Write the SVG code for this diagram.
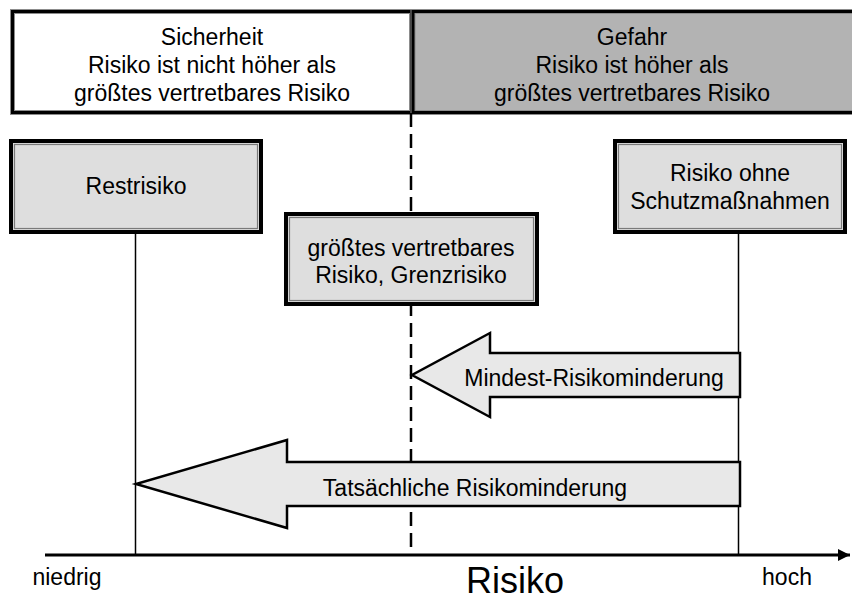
<svg xmlns="http://www.w3.org/2000/svg" width="852" height="601" viewBox="0 0 852 601">
  <style>
    text { font-family: "Liberation Sans", Arial, sans-serif; fill: #000; text-anchor: middle; }
    .lbl { font-size: 23px; }
    .band-outer { fill: none; stroke: #8c8c8c; stroke-width: 5; }
    .band-inner { fill: none; stroke: #000; stroke-width: 3; }
    .node-outer { fill: #dedede; stroke: #000; stroke-width: 4; }
    .node-inner { fill: none; stroke: #7a7a7a; stroke-width: 1.2; }
    .conn { stroke: #000; stroke-width: 1.5; fill: none; }
    .arrow { fill: #e8e8e8; stroke: #000; stroke-width: 2.5; stroke-linejoin: miter; }
  </style>
  <defs>
    <marker id="axisHead" viewBox="0 0 10 10" refX="10" refY="5" markerWidth="4" markerHeight="4" orient="auto" markerUnits="strokeWidth">
      <path d="M0,0 L10,5 L0,10 z" fill="#000"/>
    </marker>
  </defs>

  <rect width="852" height="601" fill="#fff"/>

  <!-- top bands -->
  <g id="sicherheit">
    <rect x="12.5" y="11.5" width="399" height="101" fill="#fff"/>
    <rect class="band-outer" x="12.5" y="11.5" width="399" height="101"/>
    <rect class="band-inner" x="12.5" y="11.5" width="399" height="101"/>
    <text class="lbl" x="212" y="45">Sicherheit</text>
    <text class="lbl" x="212" y="73">Risiko ist nicht höher als</text>
    <text class="lbl" x="212" y="101">größtes vertretbares Risiko</text>
  </g>
  <g id="gefahr">
    <rect x="413" y="11.5" width="450" height="101" fill="#b3b3b3"/>
    <rect class="band-outer" x="413" y="11.5" width="450" height="101"/>
    <rect class="band-inner" x="413" y="11.5" width="450" height="101"/>
    <text class="lbl" x="632" y="45">Gefahr</text>
    <text class="lbl" x="632" y="73">Risiko ist höher als</text>
    <text class="lbl" x="632" y="101">größtes vertretbares Risiko</text>
  </g>

  <!-- connectors: drop lines, dashed limit line, reduction arrows, axis -->
  <g id="connectors">
    <line class="conn" x1="135.5" y1="233" x2="135.5" y2="555"/>
    <line class="conn" x1="738.5" y1="233" x2="738.5" y2="555"/>
    <line x1="411" y1="113" x2="411" y2="552" stroke="#000" stroke-width="2.5" stroke-dasharray="14 7"/>
    <path class="arrow" d="M740,353 L490,353 L490,333 L412,375 L490,417 L490,397 L740,397 Z"/>
    <path class="arrow" d="M740,462 L287,462 L287,440 L136,484 L287,528 L287,506 L740,506 Z"/>
    <line x1="45" y1="555" x2="850" y2="555" stroke="#000" stroke-width="3" marker-end="url(#axisHead)"/>
  </g>

  <!-- nodes -->
  <g id="restrisiko">
    <rect class="node-outer" x="11" y="141" width="250" height="91"/>
    <rect class="node-inner" x="14.5" y="144.5" width="243" height="84"/>
    <text class="lbl" x="136" y="194">Restrisiko</text>
  </g>
  <g id="grenzrisiko">
    <rect class="node-outer" x="286" y="214" width="251" height="90"/>
    <rect class="node-inner" x="289.5" y="217.5" width="244" height="83"/>
    <text class="lbl" x="411" y="256">größtes vertretbares</text>
    <text class="lbl" x="411" y="283">Risiko, Grenzrisiko</text>
  </g>
  <g id="ohne-schutz">
    <rect class="node-outer" x="615" y="141" width="230" height="91"/>
    <rect class="node-inner" x="618.5" y="144.5" width="223" height="84"/>
    <text class="lbl" x="730" y="181">Risiko ohne</text>
    <text class="lbl" x="730" y="209">Schutzmaßnahmen</text>
  </g>

  <!-- arrow labels -->
  <g id="labels">
    <text class="lbl" x="594" y="386">Mindest-Risikominderung</text>
    <text class="lbl" x="475" y="496">Tatsächliche Risikominderung</text>
    <text x="67" y="585" font-size="23">niedrig</text>
    <text x="787" y="585" font-size="23">hoch</text>
    <text x="515" y="593" font-size="36">Risiko</text>
  </g>
</svg>
